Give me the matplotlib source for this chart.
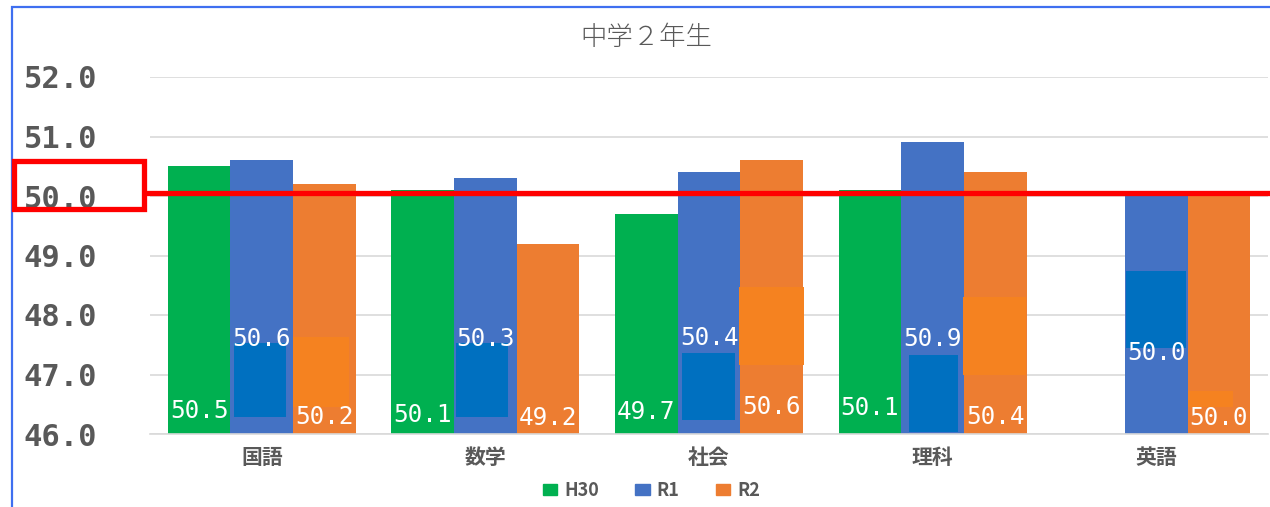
import numpy as np
import matplotlib.pyplot as plt
from matplotlib.patches import Rectangle, Patch

plt.rcParams['font.family'] = ['Noto Sans CJK JP', 'DejaVu Sans']

# data
subjects = ['国語', '数学', '社会', '理科', '英語']
series = ['H30', 'R1', 'R2']
h30 = [50.5, 50.1, 49.7, 50.1, np.nan]
r1 = [50.6, 50.3, 50.4, 50.9, 50.0]
r2 = [50.2, 49.2, 50.6, 50.4, 50.0]
yticks = [46.0, 47.0, 48.0, 49.0, 50.0, 51.0, 52.0]
ref_line = 50.05

colors = ['#00B050', '#4472C4', '#ED7D31']
gray = '#595959'

# where each data label sits (data y), one row per series
label_y = [[46.38, 46.32, 46.37, 46.44, None],
           [47.60, 47.60, 47.61, 47.60, 47.36],
           [46.29, 46.27, 46.45, 46.29, 46.27]]

# pasted-over patches in the screenshot (x0, x1, y0, y1 in data units)
blue_patches = [(-0.124, 0.108, 46.29, 47.53), (0.869, 1.101, 46.29, 47.53),
                (1.879, 2.116, 46.24, 47.36), (2.894, 3.114, 46.03, 47.33),
                (3.865, 4.133, 47.45, 48.74)]
orange_patches = [(0.14, 0.39, 46.45, 47.63), (2.134, 2.425, 47.16, 48.47),
                  (3.136, 3.418, 46.99, 48.30), (4.142, 4.343, 46.45, 46.72)]

fig = plt.figure(figsize=(12.7, 5.07), dpi=100)
ax = fig.add_axes([150/1270, 1-434/507, 1118/1270, 357/507])

x = np.arange(len(subjects))
w = 0.28
bottom = yticks[0]
for i, vals in enumerate([h30, r1, r2]):
    v = np.array(vals, dtype=float)
    ax.bar(x + (i-1)*w, v - bottom, w, bottom=bottom, color=colors[i],
           linewidth=0, zorder=2)
    for j in range(len(subjects)):
        if np.isnan(v[j]):
            continue
        ax.text(x[j] + (i-1)*w, label_y[i][j], f'{v[j]:.1f}', color='white',
                ha='center', va='center', fontsize=17.5, family='DejaVu Sans Mono',
                zorder=5)

for x0, x1, y0, y1 in blue_patches:
    ax.add_patch(Rectangle((x0, y0), x1-x0, y1-y0, color='#0070C0', lw=0, zorder=3))
for x0, x1, y0, y1 in orange_patches:
    ax.add_patch(Rectangle((x0, y0), x1-x0, y1-y0, color='#F58220', lw=0, zorder=3))

ax.set_xlim(-0.5, len(subjects)-0.5)
ax.set_ylim(yticks[0], yticks[-1])
ax.set_yticks(yticks)
ax.set_yticklabels([f'{t:.1f}' for t in yticks], family='DejaVu Sans Mono',
                   fontsize=22, fontweight='bold', color=gray)
ax.set_xticks(x)
ax.set_xticklabels(subjects, fontsize=15, fontweight='bold', color=gray)
ax.tick_params(axis='both', length=0)
ax.tick_params(axis='y', pad=38)
ax.tick_params(axis='x', pad=9)
ax.grid(axis='y', color='#D9D9D9', linewidth=1.2, zorder=0)
ax.set_axisbelow(True)
for s in ['top', 'right', 'left']:
    ax.spines[s].set_visible(False)
ax.spines['bottom'].set_color('#D9D9D9')
ax.spines['bottom'].set_linewidth(1.2)

# red reference line and highlight box
ax.axhline(ref_line, xmin=-0.004, xmax=1.01, color='#FF0000', lw=3.8,
           clip_on=False, zorder=6)
fig.patches.append(Rectangle((14/1270, 1-209/507), 130/1270, 48/507,
                             transform=fig.transFigure, fill=False,
                             edgecolor='#FF0000', lw=3.8, zorder=7))
# outer chart border
fig.patches.append(Rectangle((12/1270, -0.1), 1.2, 1-7/507+0.1,
                             transform=fig.transFigure, fill=False,
                             edgecolor='#3F6FF0', lw=1.6, zorder=1))

fig.text(0.509, 1-37/507, '中学２年生', ha='center', va='center',
         fontsize=19, color=gray, fontweight='light')

handles = [Patch(color=c, label=s) for c, s in zip(colors, series)]
fig.legend(handles=handles, loc='center', bbox_to_anchor=(0.513, 1-490/507),
           ncol=3, frameon=False, handlelength=0.8, handleheight=0.55,
           handletextpad=0.4, columnspacing=2.0,
           prop={'size': 13, 'weight': 'bold'}, labelcolor=gray)

fig.savefig('out.png', dpi=100)
